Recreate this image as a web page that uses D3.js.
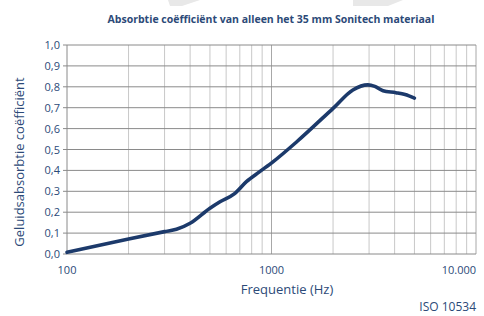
<!DOCTYPE html>
<html>
<head>
<meta charset="utf-8">
<script src="https://cdn.jsdelivr.net/npm/d3@7"></script>
<style>
  body { margin: 0; background: #fff; }
  text { font-family: "Open Sans", "Noto Sans", sans-serif; fill: #2c4a78; }
</style>
</head>
<body>
<div id="chart"></div>
<script>
const freqs  = [100, 200, 300, 343, 400, 500, 560, 660, 754, 876, 1020, 1329, 2000, 2500, 2960, 3200, 3510, 4060, 4500, 5000];
const alphas = [0.008, 0.072, 0.107, 0.118, 0.147, 0.219, 0.25, 0.289, 0.346, 0.394, 0.442, 0.537, 0.697, 0.785, 0.809, 0.802, 0.781, 0.772, 0.763, 0.746];

const xTickLabels = ["100", "1000", "10.000"];
const xTickValues = [100, 1000, 10000];
const yTickValues = [0, 0.1, 0.2, 0.3, 0.4, 0.5, 0.6, 0.7, 0.8, 0.9, 1.0];

const width = 484, height = 316;
const plotLeft = 67, plotRight = 476, plotTop = 45, plotBottom = 254;

const svg = d3.select("#chart").append("svg")
    .attr("width", width)
    .attr("height", height);

// vage watermerk-vormen bovenaan
svg.append("polygon").attr("points", "168,0 200,0 182,6 170,6").attr("fill", "#e8e8e8");
svg.append("polygon").attr("points", "353,0 403,0 388,6 353,6").attr("fill", "#e8e8e8");

const x = d3.scaleLog().domain([100, 10000]).range([plotLeft, plotRight]);
const y = d3.scaleLinear().domain([0, 1]).range([plotBottom, plotTop]);

// verticale rasterlijnen
const minor = [];
[100, 1000].forEach(dec => {
    for (let k = 2; k <= 9; k++) minor.push(dec * k);
});
svg.append("g").selectAll("line").data(minor).join("line")
    .attr("x1", d => x(d)).attr("x2", d => x(d))
    .attr("y1", plotTop).attr("y2", plotBottom)
    .attr("stroke", "#c8c8c8").attr("stroke-width", 1);

svg.append("g").selectAll("line").data([1000, 10000]).join("line")
    .attr("x1", d => x(d)).attr("x2", d => x(d))
    .attr("y1", plotTop).attr("y2", plotBottom)
    .attr("stroke", "#a8a8a8").attr("stroke-width", 1);

// horizontale rasterlijnen
svg.append("g").selectAll("line").data(yTickValues).join("line")
    .attr("x1", plotLeft - 4).attr("x2", plotRight)
    .attr("y1", d => y(d)).attr("y2", d => y(d))
    .attr("stroke", "#8a8a8a").attr("stroke-width", 1);

// y-as
svg.append("line")
    .attr("x1", plotLeft).attr("x2", plotLeft)
    .attr("y1", plotTop).attr("y2", plotBottom)
    .attr("stroke", "#8a8a8a");

svg.append("g").selectAll("text").data(yTickValues).join("text")
    .attr("x", plotLeft - 7)
    .attr("y", d => y(d) + 4)
    .attr("text-anchor", "end")
    .attr("font-size", 11)
    .text(d => d3.format(".1f")(d).replace(".", ","));

svg.append("g").selectAll("text").data(xTickValues).join("text")
    .attr("x", d => x(d))
    .attr("y", 274)
    .attr("text-anchor", (d, i) => i === xTickValues.length - 1 ? "end" : "middle")
    .attr("font-size", 11)
    .text((d, i) => xTickLabels[i]);

// curve
const line = d3.line()
    .x((d, i) => x(freqs[i]))
    .y(d => y(d))
    .curve(d3.curveMonotoneX);

svg.append("path")
    .datum(alphas)
    .attr("d", line)
    .attr("fill", "none")
    .attr("stroke", "#1c3a6b")
    .attr("stroke-width", 3.6)
    .attr("stroke-linecap", "round");

// titels
svg.append("text")
    .attr("x", 271).attr("y", 23)
    .attr("text-anchor", "middle")
    .attr("font-size", 10.5)
    .attr("font-weight", "bold")
    .text("Absorbtie coëfficiënt van alleen het 35 mm Sonitech materiaal");

svg.append("text")
    .attr("x", 287).attr("y", 294)
    .attr("text-anchor", "middle")
    .attr("font-size", 13)
    .text("Frequentie (Hz)");

svg.append("text")
    .attr("transform", "translate(24,162) rotate(-90)")
    .attr("text-anchor", "middle")
    .attr("font-size", 13)
    .text("Geluidsabsorbtie coëfficiënt");

svg.append("text")
    .attr("x", 476).attr("y", 311)
    .attr("text-anchor", "end")
    .attr("font-size", 12)
    .text("ISO 10534");
</script>
</body>
</html>
